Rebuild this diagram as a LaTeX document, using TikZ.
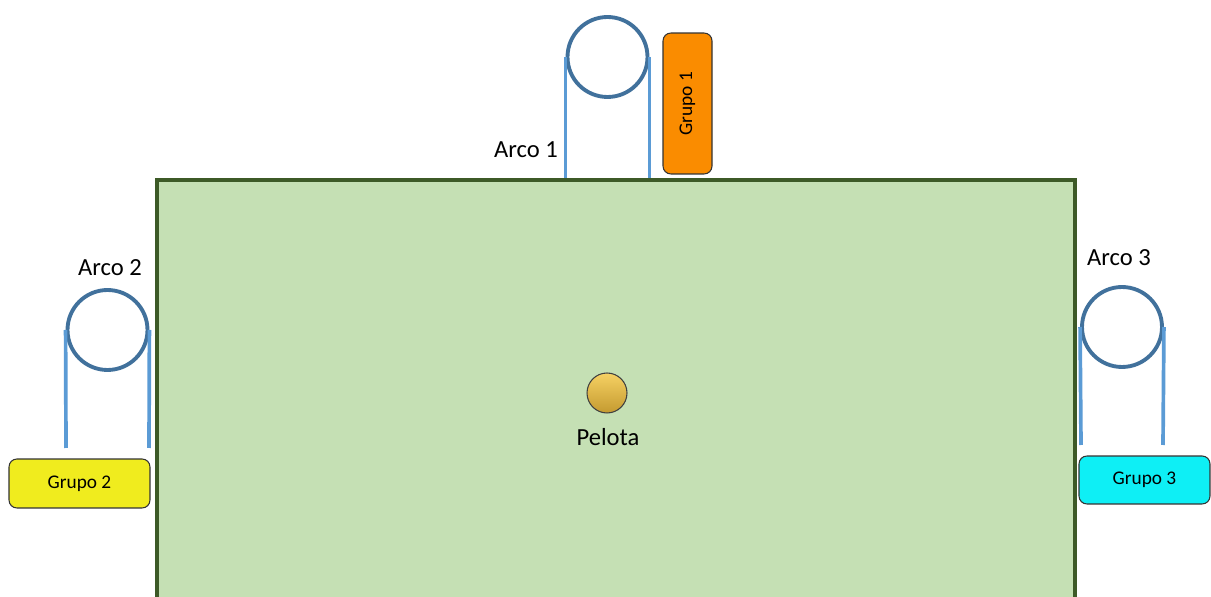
\documentclass[tikz,border=0pt]{standalone}
\usepackage{fontspec}
\setmainfont{Carlito}
\usetikzlibrary{positioning}
\definecolor{fieldfill}{HTML}{C5E0B4}
\definecolor{fielddraw}{HTML}{3D5A27}
\definecolor{hoopblue}{HTML}{41719C}
\definecolor{postblue}{HTML}{5B9BD5}
\definecolor{teamorange}{HTML}{FA8C00}
\definecolor{teamyellow}{HTML}{F0EC1E}
\definecolor{teamcyan}{HTML}{0EEFF5}
\definecolor{balltop}{HTML}{F6D163}
\definecolor{ballbottom}{HTML}{C49A30}
\begin{document}
\begin{tikzpicture}[x=0.02cm, y=-0.02cm,
  arco/.style={draw=hoopblue, circle, line width=2.2pt, minimum size=1.6cm, inner sep=0pt},
  poste/.style={draw=postblue, line width=2.1pt},
  grupo/.style={draw=black!80, rectangle, rounded corners=4.5pt, line width=0.6pt,
                minimum width=2.82cm, minimum height=0.98cm, inner sep=0pt,
                font=\fontsize{11}{13}\selectfont},
  etiqueta/.style={font=\fontsize{14}{16}\selectfont, inner sep=0pt}
]
\useasboundingbox (0,0) rectangle (1211,597);
% field
\node[draw=fielddraw, fill=fieldfill, line width=1.9pt, rectangle,
      minimum width=18.36cm, minimum height=9.2cm, inner sep=0pt] (field) at (616,410) {};

% hoops
\node[arco] (arco1) at (607.5,57) {};
\node[arco] (arco2) at (107.5,330) {};
\node[arco] (arco3) at (1122,327) {};

\coordinate (a2l) at (66,448);
\coordinate (a2r) at (149,448);
\coordinate (a3l) at (1081,445);
\coordinate (a3r) at (1163,445);

\draw[poste] (arco1.west) -- (arco1.west |- field.north);
\draw[poste] (arco1.east) -- (arco1.east |- field.north);
\draw[poste] (arco2.west) -- (a2l);
\draw[poste] (arco2.east) -- (a2r);
\draw[poste] (arco3.west) -- (a3l);
\draw[poste] (arco3.east) -- (a3r);

\node[etiqueta] (lab1) at (526,150) {Arco 1};
\node[etiqueta] (lab2) at (110,268) {Arco 2};
\node[etiqueta] (lab3) at (1119,258) {Arco 3};

% teams
\node[grupo, fill=teamorange, rotate=90] (grupo1) at (687.5,103.5) {Grupo 1};
\node[grupo, fill=teamyellow] (grupo2) at (79.5,483.5) {Grupo 2};
\node[grupo, fill=teamcyan, minimum width=2.62cm, minimum height=0.96cm] (grupo3) at (1144.5,480) {Grupo 3};

% ball
\node[circle, draw=black!75, line width=0.6pt, top color=balltop, bottom color=ballbottom,
      minimum size=0.8cm, inner sep=0pt] (pelota) at (607,393) {};
\node[etiqueta] (labpelota) at (608,437) {Pelota};
\end{tikzpicture}
\end{document}
